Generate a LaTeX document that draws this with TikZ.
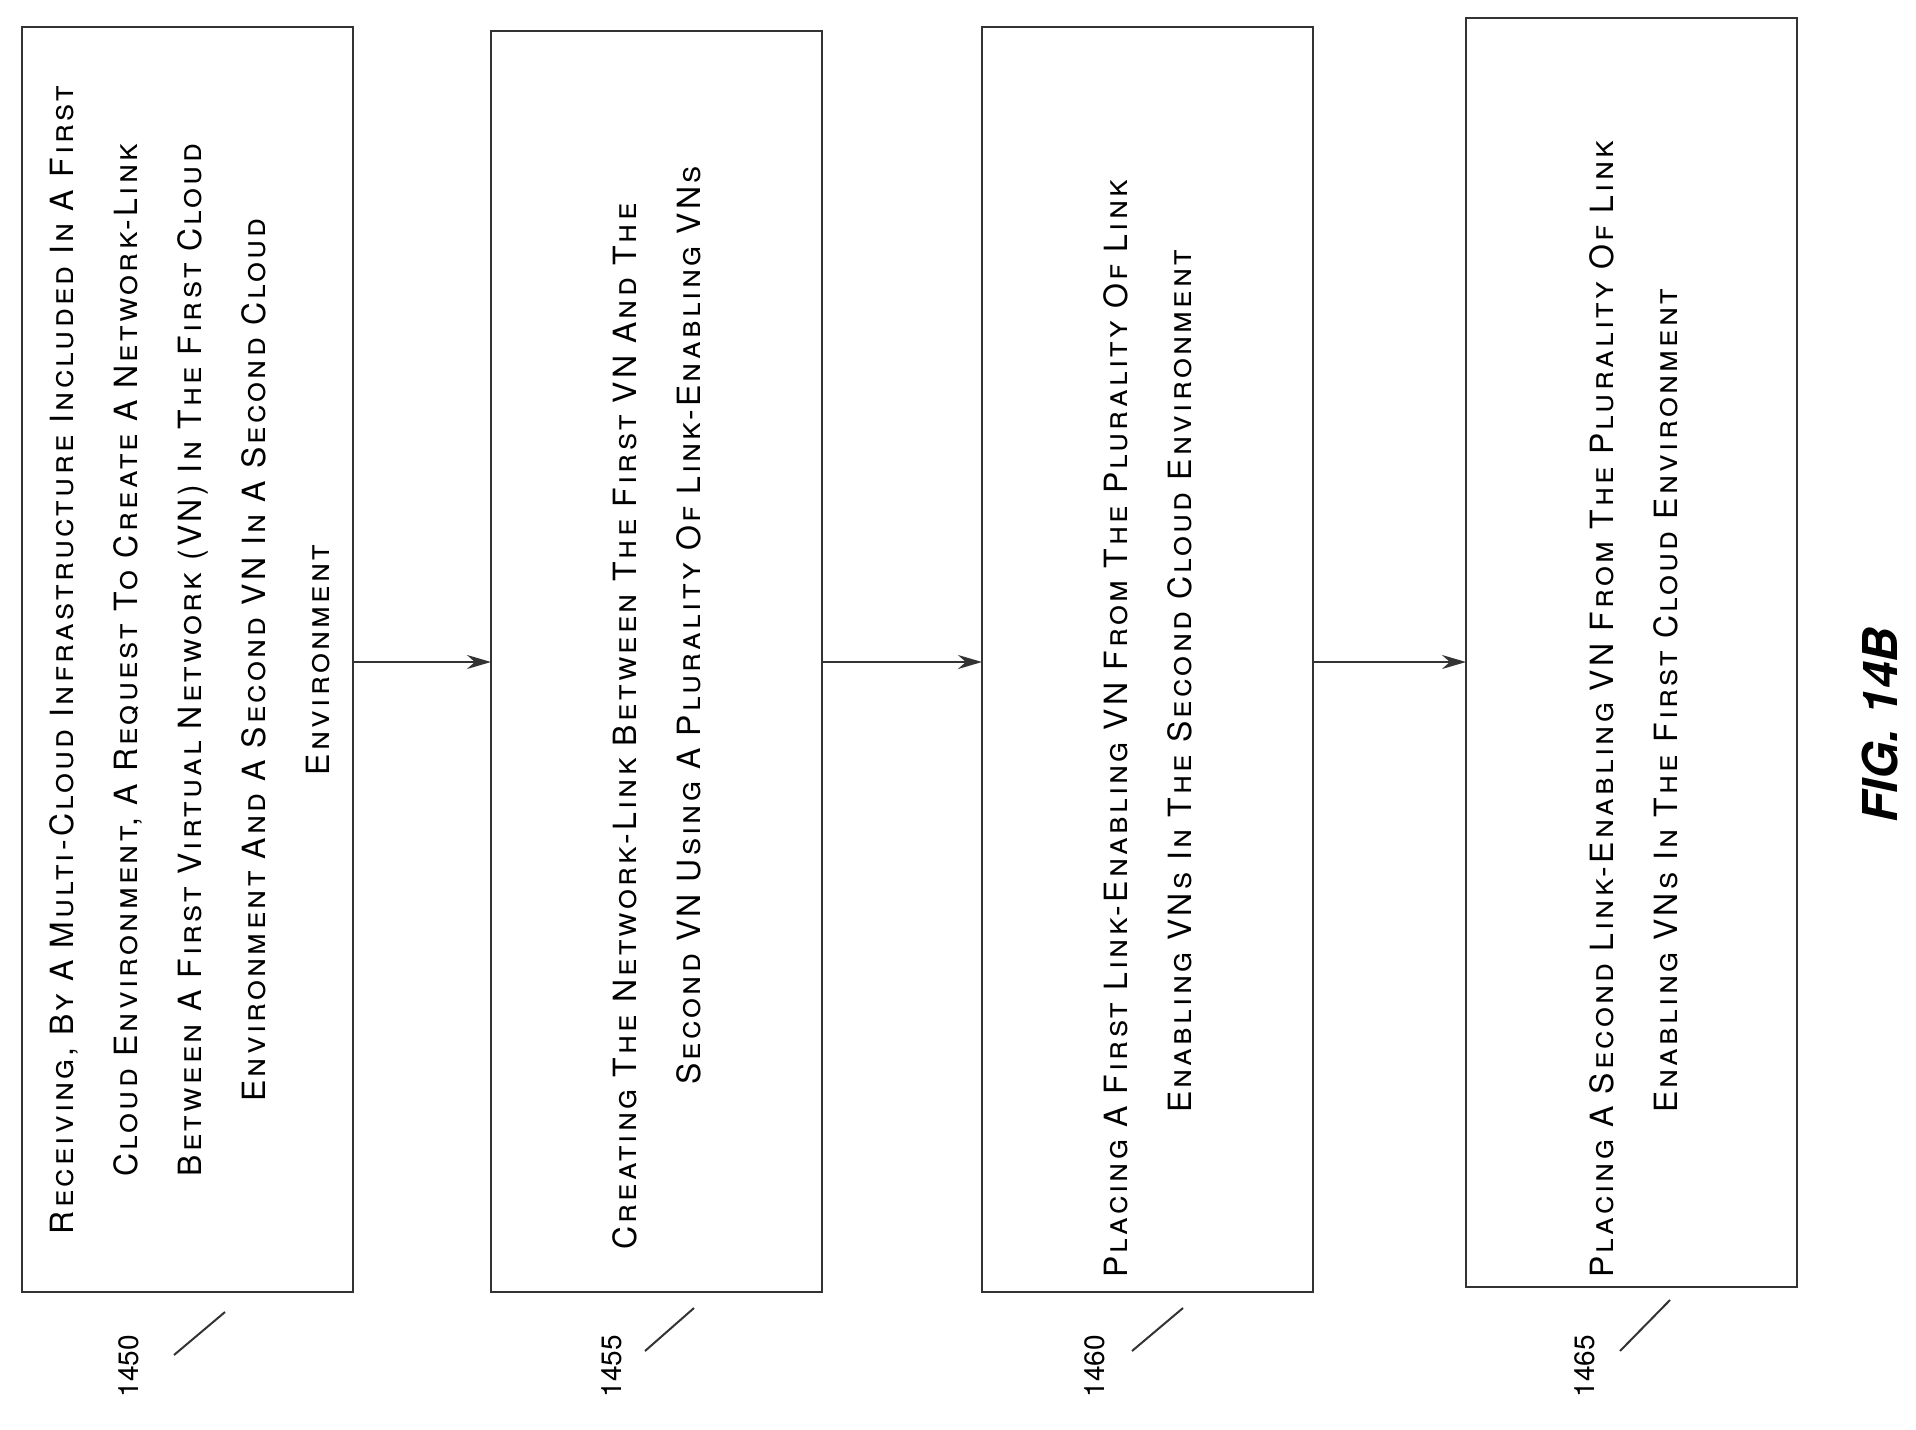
\documentclass[tikz,border=0pt]{standalone}
\usepackage{fontspec}
\setmainfont{TeX Gyre Heros}
\newfontfamily\boxfont[LetterSpace=10]{TeX Gyre Heros}
\usetikzlibrary{arrows.meta}
\begin{document}
\begin{tikzpicture}[x=1pt,y=-1pt,
  box/.style={draw=black!80,line width=2pt},
  txt/.style={rotate=90,anchor=west,align=left,font=\boxfont\fontsize{32}{64}\selectfont\scshape,inner sep=0pt},
  lbl/.style={rotate=90,font=\fontsize{28}{30}\selectfont},
  arr/.style={draw=black!80,line width=2pt,-{Stealth[length=24pt,width=14pt]}},
  lead/.style={draw=black!80,line width=2pt}]
\useasboundingbox (0,0) rectangle (1916,1429);
\draw[box] (22,27) rectangle (353,1292);
\coordinate (b1e) at (353,662);
\draw[box] (491,31) rectangle (822,1292);
\coordinate (b2w) at (491,662); \coordinate (b2e) at (822,662);
\draw[box] (982,27) rectangle (1313,1292);
\coordinate (b3w) at (982,662); \coordinate (b3e) at (1313,662);
\draw[box] (1466,18) rectangle (1797,1287);
\coordinate (b4w) at (1466,662);
\draw[arr] (b1e) -- (b2w);
\draw[arr] (b2e) -- (b3w);
\draw[arr] (b3e) -- (b4w);
\node[txt,align=center,anchor=center] (t1) at (190,660) {Receiving, By A Multi-Cloud Infrastructure Included In A First\\Cloud Environment, A Request To Create A Network-Link\\Between A First Virtual Network (VN) In The First Cloud\\Environment  And A Second VN  In A Second Cloud\\Environment};
\node[txt] (t2) at (657,1250) {Creating The Network-Link Between The First VN  And The\\\hspace*{165pt}Second VN Using A Plurality Of Link-Enabling VNs};
\node[txt] (t3) at (1148,1278) {Placing A First Link-Enabling VN  From The Plurality Of Link\\\hspace*{165pt}Enabling VNs In The Second Cloud Environment};
\node[txt] (t4) at (1634,1278) {Placing A Second Link-Enabling VN From The Plurality Of Link\\\hspace*{165pt}Enabling VNs In The First Cloud Environment};
\node[lbl] (l1) at (129,1366) {1450};
\node[lbl] (l2) at (612,1366) {1455};
\node[lbl] (l3) at (1095,1366) {1460};
\node[lbl] (l4) at (1585,1366) {1465};
\coordinate (c1a) at (174,1355); \coordinate (c1b) at (225,1312);
\coordinate (c2a) at (645,1351); \coordinate (c2b) at (694,1308);
\coordinate (c3a) at (1132,1351); \coordinate (c3b) at (1183,1308);
\coordinate (c4a) at (1620,1351); \coordinate (c4b) at (1670,1300);
\draw[lead] (c1a) -- (c1b); \draw[lead] (c2a) -- (c2b);
\draw[lead] (c3a) -- (c3b); \draw[lead] (c4a) -- (c4b);
\node[rotate=90,font=\fontsize{48}{50}\selectfont\bfseries\itshape] (fig) at (1880,725) {FIG. 14B};
\end{tikzpicture}
\end{document}
